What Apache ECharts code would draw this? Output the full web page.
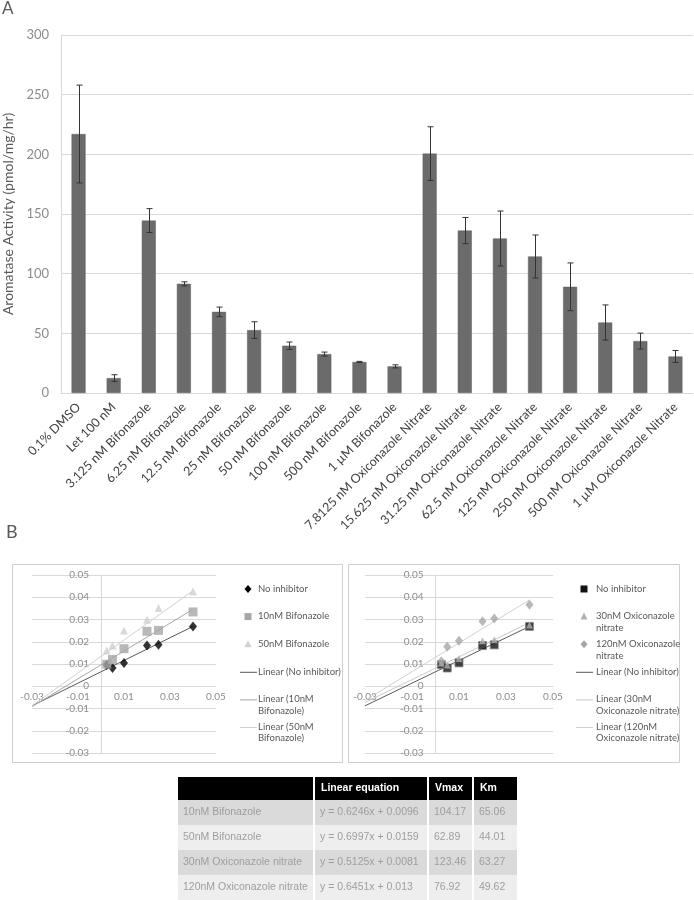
<!DOCTYPE html>
<html>
<head>
<meta charset="utf-8">
<script src="https://cdn.jsdelivr.net/npm/echarts@6/dist/echarts.min.js"></script>
<style>
  html, body { margin: 0; padding: 0; background: #fff; }
  #main { width: 694px; height: 900px; }
</style>
</head>
<body>
<div id="main"></div>
<script>
// 柱状图数据 (A)
var categories = ['0.1% DMSO', 'Let 100 nM', '3.125 nM Bifonazole', '6.25 nM Bifonazole',
  '12.5 nM Bifonazole', '25 nM Bifonazole', '50 nM Bifonazole', '100 nM Bifonazole',
  '500 nM Bifonazole', '1 µM Bifonazole', '7.8125 nM Oxiconazole Nitrate',
  '15.625 nM Oxiconazole Nitrate', '31.25 nM Oxiconazole Nitrate', '62.5 nM Oxiconazole Nitrate',
  '125 nM Oxiconazole Nitrate', '250 nM Oxiconazole Nitrate', '500 nM Oxiconazole Nitrate',
  '1 µM Oxiconazole Nitrate'];
var activity = [217, 12.5, 144.5, 91.5, 68, 52.7, 39.6, 32.6, 26, 22.3,
  200.6, 136.1, 129.5, 114.4, 89, 59.1, 43.5, 30.6];
var activityErr = [41, 2.8, 10, 1.7, 4, 7, 3.1, 1.7, 0.5, 1.3,
  22.5, 11, 23, 18, 20, 14.7, 6.7, 5];

// Lineweaver-Burk 数据 (B)
var xKinetic = [0.0025, 0.005, 0.01, 0.02, 0.025, 0.04];
var noInhibitorL = [0.0095, 0.0082, 0.0105, 0.0183, 0.0186, 0.0269];
var bif10 = [0.0099, 0.0120, 0.0169, 0.0247, 0.0251, 0.0334];
var bif50 = [0.0161, 0.0183, 0.0251, 0.0299, 0.0352, 0.0426];
var noInhibitorR = [0.0097, 0.0082, 0.0105, 0.0183, 0.0186, 0.0269];
var oxi30 = [0.0105, 0.0095, 0.0125, 0.0205, 0.0209, 0.0275];
var oxi120 = [0.0112, 0.0177, 0.0205, 0.0292, 0.0304, 0.0366];

// 趋势线 [斜率, 截距]
var trendNoInh = [0.51, 0.0065];
var trendBif10 = [0.6246, 0.0096];
var trendBif50 = [0.739, 0.0134];
var trendOxi30 = [0.5125, 0.0081];
var trendOxi120 = [0.6451, 0.013];
var trendRange = [-0.03, 0.04];

// 表格
var tableHeader = ['', 'Linear equation', 'Vmax', 'Km'];
var tableRows = [
  ['10nM Bifonazole', 'y = 0.6246x + 0.0096', '104.17', '65.06'],
  ['50nM Bifonazole', 'y = 0.6997x + 0.0159', '62.89', '44.01'],
  ['30nM Oxiconazole nitrate', 'y = 0.5125x + 0.0081', '123.46', '63.27'],
  ['120nM Oxiconazole nitrate', 'y = 0.6451x + 0.013', '76.92', '49.62']
];

var chart = echarts.init(document.getElementById('main'));
var FONT = 'Lato, "Liberation Sans", sans-serif';
var ARIAL = '"Liberation Sans", Arial, sans-serif';
var gridGray = '#d9d9d9';

// 小图的网格尺寸
var kGrids = [
  { left: 32, top: 575, width: 184, height: 178 },
  { left: 365, top: 575, width: 188, height: 178 }
];

function pts(ys) {
  return xKinetic.map(function (x, i) { return [x, ys[i]]; });
}
function trend(t) {
  return trendRange.map(function (x) { return [x, t[0] * x + t[1]]; });
}
function fmt(v) { return String(+v.toFixed(2)); }

// 坐标轴放在 0 处 (用 offset 平移)
function kineticX(idx) {
  var g = kGrids[idx - 1];
  return {
    type: 'value', gridIndex: idx, min: -0.03, max: 0.05, interval: 0.02,
    position: 'bottom', offset: -g.height * 0.03 / 0.08,
    axisLine: { onZero: false, lineStyle: { color: gridGray } },
    axisTick: { show: false },
    splitLine: { show: false },
    axisLabel: { fontSize: 10, color: '#8c8c8c', margin: 6, fontFamily: FONT, formatter: fmt }
  };
}
function kineticY(idx) {
  var g = kGrids[idx - 1];
  return {
    type: 'value', gridIndex: idx, min: -0.03, max: 0.05, interval: 0.01,
    position: 'left', offset: -g.width * 0.03 / 0.08,
    axisLine: { show: true, onZero: false, lineStyle: { color: gridGray } },
    axisTick: { show: false },
    splitLine: { lineStyle: { color: gridGray } },
    axisLabel: { fontSize: 10, color: '#8c8c8c', margin: 12, fontFamily: FONT, formatter: fmt }
  };
}
function scatter(name, idx, data, symbol, size, color, border) {
  return {
    name: name, type: 'scatter', xAxisIndex: idx, yAxisIndex: idx, data: pts(data),
    symbol: symbol, symbolSize: size, z: 4,
    itemStyle: { color: color, borderColor: border || color, borderWidth: border ? 1 : 0 }
  };
}
function trendLine(name, idx, t, color) {
  return {
    name: name, type: 'line', xAxisIndex: idx, yAxisIndex: idx, data: trend(t),
    showSymbol: false, silent: true, z: 3,
    lineStyle: { color: color, width: 1 }
  };
}

// 图例 (手工绘制, 与 Excel 一致)
var legendLeft = [
  { s: 'diamond', c: '#000', t: 'No inhibitor' },
  { s: 'rect', c: '#a6a6a6', t: '10nM Bifonazole' },
  { s: 'triangle', c: '#d0d0d0', t: '50nM Bifonazole' },
  { s: 'line', c: '#595959', t: 'Linear (No inhibitor)' },
  { s: 'line', c: '#a6a6a6', t: 'Linear (10nM\nBifonazole)' },
  { s: 'line', c: '#d0d0d0', t: 'Linear (50nM\nBifonazole)' }
];
var legendRight = [
  { s: 'rect', c: '#111', t: 'No inhibitor' },
  { s: 'triangle', c: '#b0b0b0', t: '30nM Oxiconazole\nnitrate' },
  { s: 'diamond', c: '#a6a6a6', t: '120nM Oxiconazole\nnitrate' },
  { s: 'line', c: '#595959', t: 'Linear (No inhibitor)' },
  { s: 'line', c: '#c8c8c8', t: 'Linear (30nM\nOxiconazole nitrate)' },
  { s: 'line', c: '#d0d0d0', t: 'Linear (120nM\nOxiconazole nitrate)' }
];

function legendGraphics(items, mx, tx, y0) {
  var out = [];
  items.forEach(function (it, i) {
    var y = y0 + i * 27.6;
    if (it.s === 'line') {
      out.push({ type: 'line', shape: { x1: mx - 8, y1: y + 0.5, x2: mx + 9, y2: y + 0.5 },
        style: { stroke: it.c, lineWidth: 1 } });
    } else if (it.s === 'rect') {
      out.push({ type: 'rect', shape: { x: mx - 3.5, y: y - 3.5, width: 7, height: 7 },
        style: { fill: it.c } });
    } else if (it.s === 'diamond') {
      out.push({ type: 'polygon', shape: { points: [[mx, y - 4], [mx + 3.5, y], [mx, y + 4], [mx - 3.5, y]] },
        style: { fill: it.c } });
    } else {
      out.push({ type: 'polygon', shape: { points: [[mx, y - 4], [mx + 3.5, y + 3], [mx - 3.5, y + 3]] },
        style: { fill: it.c } });
    }
    out.push({ type: 'text', x: tx, y: y - 6, style: { text: it.t, fill: '#595959', fontSize: 9.5,
      fontFamily: FONT, lineHeight: 11.5, verticalAlign: 'top' } });
  });
  return out;
}

// 表格图形
function tableGraphics() {
  var colX = [177, 314, 428, 473, 518];
  var out = [];
  var headY = 777, headH = 23, rowH = 25;
  for (var c = 0; c < 4; c++) {
    out.push({ type: 'rect', shape: { x: colX[c] + 1, y: headY, width: colX[c + 1] - colX[c] - 2, height: headH },
      style: { fill: '#000' } });
    out.push({ type: 'text', x: colX[c] + 7, y: headY + headH / 2, style: { text: tableHeader[c], fill: '#fff',
      fontSize: 10.5, fontWeight: 'bold', fontFamily: ARIAL, verticalAlign: 'middle' } });
  }
  tableRows.forEach(function (row, r) {
    var y = headY + headH + r * rowH;
    for (var c = 0; c < 4; c++) {
      out.push({ type: 'rect', shape: { x: colX[c] + 1, y: y, width: colX[c + 1] - colX[c] - 2, height: rowH },
        style: { fill: r % 2 === 0 ? '#dadada' : '#eeeeee' } });
      out.push({ type: 'text', x: colX[c] + 6, y: y + rowH / 2, style: { text: row[c], fill: '#9e9e9e',
        fontSize: 10.5, fontFamily: ARIAL, verticalAlign: 'middle' } });
    }
  });
  return out;
}

var graphics = [
  { type: 'text', x: 2, y: 0, style: { text: 'A', fontSize: 17, fill: '#595959', fontFamily: FONT } },
  { type: 'text', x: 6, y: 523, style: { text: 'B', fontSize: 18, fill: '#595959', fontFamily: FONT } },
  { type: 'rect', shape: { x: 12.5, y: 564.5, width: 330, height: 198 }, style: { fill: 'none', stroke: '#cfcfcf', lineWidth: 1 } },
  { type: 'rect', shape: { x: 348.5, y: 564.5, width: 331, height: 198 }, style: { fill: 'none', stroke: '#cfcfcf', lineWidth: 1 } }
].concat(legendGraphics(legendLeft, 248, 258, 589))
 .concat(legendGraphics(legendRight, 584, 596, 589))
 .concat(tableGraphics());

var option = {
  animation: false,
  textStyle: { fontFamily: FONT },
  grid: [
    { left: 61, top: 35, width: 632, height: 358, outerBoundsMode: 'none' },
    Object.assign({ outerBoundsMode: 'none' }, kGrids[0]),
    Object.assign({ outerBoundsMode: 'none' }, kGrids[1])
  ],
  xAxis: [
    {
      type: 'category', gridIndex: 0, data: categories,
      axisLine: { lineStyle: { color: gridGray } },
      axisTick: { show: false },
      axisLabel: { interval: 0, rotate: 45, fontSize: 12.5, color: '#404040', margin: 12, fontFamily: FONT }
    },
    kineticX(1), kineticX(2)
  ],
  yAxis: [
    {
      type: 'value', gridIndex: 0, min: 0, max: 300, interval: 50,
      name: 'Aromatase Activity (pmol/mg/hr)', nameLocation: 'middle', nameGap: 43,
      nameTextStyle: { fontSize: 14, color: '#595959', fontFamily: FONT },
      axisLine: { show: true, lineStyle: { color: gridGray } },
      axisTick: { show: false },
      splitLine: { lineStyle: { color: gridGray } },
      axisLabel: { fontSize: 13, color: '#8c8c8c', margin: 12, fontFamily: FONT }
    },
    kineticY(1), kineticY(2)
  ],
  series: [
    {
      name: 'Aromatase Activity', type: 'bar', xAxisIndex: 0, yAxisIndex: 0,
      data: activity, barWidth: 14,
      itemStyle: { color: '#6b6b6b', borderColor: '#5e5e5e', borderWidth: 0.5 }
    },
    {
      name: 'Error', type: 'custom', xAxisIndex: 0, yAxisIndex: 0, z: 5,
      data: activity.map(function (v, i) { return [i, v, activityErr[i]]; }),
      encode: { x: 0, y: 1 },
      renderItem: function (params, api) {
        var i = api.value(0), v = api.value(1), e = api.value(2);
        var hi = api.coord([i, v + e]);
        var lo = api.coord([i, v - e]);
        var x = Math.round(hi[0]) + 0.5, w = 3;
        var st = { stroke: '#333', lineWidth: 1 };
        return {
          type: 'group', children: [
            { type: 'line', shape: { x1: x, y1: hi[1], x2: x, y2: lo[1] }, style: st },
            { type: 'line', shape: { x1: x - w, y1: hi[1], x2: x + w, y2: hi[1] }, style: st },
            { type: 'line', shape: { x1: x - w, y1: lo[1], x2: x + w, y2: lo[1] }, style: st }
          ]
        };
      }
    },
    trendLine('Linear (No inhibitor)', 1, trendNoInh, '#595959'),
    trendLine('Linear (10nM Bifonazole)', 1, trendBif10, '#a6a6a6'),
    trendLine('Linear (50nM Bifonazole)', 1, trendBif50, '#d0d0d0'),
    scatter('No inhibitor', 1, noInhibitorL, 'diamond', [8, 10], '#000'),
    scatter('10nM Bifonazole', 1, bif10, 'rect', 9, '#a6a6a6'),
    scatter('50nM Bifonazole', 1, bif50, 'triangle', 8, '#d0d0d0'),
    trendLine('Linear (No inhibitor)', 2, trendNoInh, '#595959'),
    trendLine('Linear (30nM Oxiconazole nitrate)', 2, trendOxi30, '#c8c8c8'),
    trendLine('Linear (120nM Oxiconazole nitrate)', 2, trendOxi120, '#d0d0d0'),
    scatter('No inhibitor', 2, noInhibitorR, 'rect', 8, '#111', '#888'),
    scatter('30nM Oxiconazole nitrate', 2, oxi30, 'triangle', 7, '#b0b0b0'),
    scatter('120nM Oxiconazole nitrate', 2, oxi120, 'diamond', [8, 10], '#a6a6a6')
  ],
  graphic: graphics
};

chart.setOption(option);
</script>
</body>
</html>
